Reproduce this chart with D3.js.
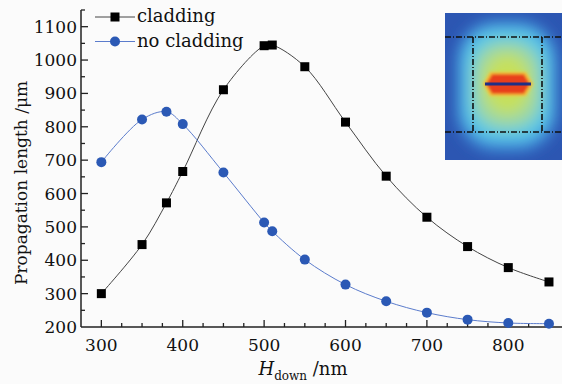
<!DOCTYPE html>
<html>
<head>
<meta charset="utf-8">
<script src="https://cdn.jsdelivr.net/npm/d3@7"></script>
<style>
  body { margin: 0; background: #fbfbfb; }
  svg { display: block; }
  text { font-family: "DejaVu Serif", "Liberation Serif", serif; fill: #111; }
</style>
</head>
<body>
<svg id="chart" width="562" height="384"></svg>
<script>
// data
const hDown = [300, 350, 380, 400, 450, 500, 510, 550, 600, 650, 700, 750, 800, 850];
const cladding = [300, 447, 572, 666, 911, 1043, 1045, 980, 814, 652, 529, 441, 378, 335];
const noCladding = [694, 822, 845, 808, 663, 513, 487, 402, 327, 277, 243, 222, 212, 210];
const xTicks = [300, 400, 500, 600, 700, 800];
const yTicks = [200, 300, 400, 500, 600, 700, 800, 900, 1000, 1100];
const seriesNames = ["cladding", "no cladding"];

const width = 562, height = 384;
const margin = {left: 81, right: 0, top: 10, bottom: 57};

const svg = d3.select("#chart");

const x = d3.scaleLinear().domain([275, 866]).range([margin.left, width - margin.right]);
const y = d3.scaleLinear().domain([200, 1150]).range([height - margin.bottom, margin.top]);

// inset field picture (decoration)
const defs = svg.append("defs");
defs.append("filter").attr("id", "blur").attr("x", "-30%").attr("y", "-30%").attr("width", "160%").attr("height", "160%")
  .append("feGaussianBlur").attr("stdDeviation", 7);
defs.append("filter").attr("id", "blurS").append("feGaussianBlur").attr("stdDeviation", 1.5);
defs.append("clipPath").attr("id", "insetClip")
  .append("rect").attr("x", 445).attr("y", 13).attr("width", 117).attr("height", 147);

const inset = svg.append("g").attr("clip-path", "url(#insetClip)");
inset.append("rect").attr("x", 445).attr("y", 13).attr("width", 117).attr("height", 147)
  .attr("fill", "#2c56b2");
const field = inset.append("g").attr("filter", "url(#blur)");
field.append("rect").attr("x", 456).attr("y", 20).attr("width", 102).attr("height", 132).attr("rx", 40)
  .attr("fill", "#3d8ad8");
field.append("rect").attr("x", 463).attr("y", 28).attr("width", 88).attr("height", 114).attr("rx", 34)
  .attr("fill", "#5cc8e6");
field.append("rect").attr("x", 474).attr("y", 42).attr("width", 66).attr("height", 86).attr("rx", 28)
  .attr("fill", "#9fd8a0");
field.append("ellipse").attr("cx", 507).attr("cy", 84).attr("rx", 24).attr("ry", 30)
  .attr("fill", "#c6e05c");
const hotG = inset.append("g").attr("filter", "url(#blurS)");
hotG.append("polygon").attr("points", "483,84 490,72 526,72 533,84 526,96 490,96").attr("fill", "#f5c23a");
hotG.append("polygon").attr("points", "486,84 492,74 524,74 530,84 524,94 492,94").attr("fill", "#e8401e");
inset.append("line").attr("x1", 485).attr("x2", 531).attr("y1", 84).attr("y2", 84)
  .attr("stroke", "#1f2f86").attr("stroke-width", 3);
const dash = "6,2,1,2";
[[445, 37, 562, 37], [445, 132, 562, 132], [473, 37, 473, 132], [542, 37, 542, 132]]
  .forEach(l => inset.append("line")
    .attr("x1", l[0]).attr("y1", l[1]).attr("x2", l[2]).attr("y2", l[3])
    .attr("stroke", "#111").attr("stroke-width", 1.6).attr("stroke-dasharray", dash));

// axes with inward ticks
const axisColor = "#222";
const xAxis = svg.append("g").attr("transform", "translate(0," + y(200) + ")");
xAxis.append("line").attr("x1", margin.left).attr("x2", width).attr("stroke", axisColor).attr("stroke-width", 1.5);
d3.range(300, 866, 25).forEach(v => {
  const major = v % 100 === 0;
  xAxis.append("line").attr("x1", x(v)).attr("x2", x(v)).attr("y1", 0).attr("y2", major ? -7 : -4)
    .attr("stroke", axisColor).attr("stroke-width", 1.3);
});
xAxis.selectAll("text.tick").data(xTicks).enter().append("text")
  .attr("x", d => x(d)).attr("y", 24).attr("text-anchor", "middle")
  .style("font-size", "17px").text(d => d);

const yAxis = svg.append("g").attr("transform", "translate(" + margin.left + ",0)");
yAxis.append("line").attr("y1", y(200)).attr("y2", margin.top).attr("stroke", axisColor).attr("stroke-width", 1.5);
d3.range(250, 1151, 50).forEach(v => {
  const major = v % 100 === 0;
  yAxis.append("line").attr("y1", y(v)).attr("y2", y(v)).attr("x1", 0).attr("x2", major ? 7 : 4)
    .attr("stroke", axisColor).attr("stroke-width", 1.3);
});
yAxis.selectAll("text.tick").data(yTicks).enter().append("text")
  .attr("x", -4).attr("y", d => y(d) + 6).attr("text-anchor", "end")
  .style("font-size", "17px").text(d => d);

// axis titles
svg.append("text")
  .attr("transform", "translate(27," + 183 + ") rotate(-90)")
  .attr("text-anchor", "middle").style("font-size", "17px")
  .text("Propagation length /\u03bcm");
const xt = svg.append("text").attr("x", 303).attr("y", 375).attr("text-anchor", "middle").style("font-size", "18px");
xt.append("tspan").style("font-style", "italic").text("H");
xt.append("tspan").attr("dy", 5).style("font-size", "12px").text("down");
xt.append("tspan").attr("dy", -5).text(" /nm");

// series
const line = d3.line().x(d => x(d[0])).y(d => y(d[1])).curve(d3.curveCatmullRom);
const black = "#000", blueLine = "#5b7ccc", blueDot = "#2b59b5";

svg.append("path").datum(hDown.map((h, i) => [h, cladding[i]]))
  .attr("d", line).attr("fill", "none").attr("stroke", "#444").attr("stroke-width", 1);
svg.append("path").datum(hDown.map((h, i) => [h, noCladding[i]]))
  .attr("d", line).attr("fill", "none").attr("stroke", blueLine).attr("stroke-width", 1);

svg.selectAll("rect.sq").data(hDown.map((h, i) => [h, cladding[i]])).enter().append("rect")
  .attr("x", d => x(d[0]) - 4.5).attr("y", d => y(d[1]) - 4.5)
  .attr("width", 9).attr("height", 9).attr("fill", black);
svg.selectAll("circle.dot").data(hDown.map((h, i) => [h, noCladding[i]])).enter().append("circle")
  .attr("cx", d => x(d[0])).attr("cy", d => y(d[1])).attr("r", 5).attr("fill", blueDot);

// legend
const legend = svg.append("g");
seriesNames.forEach((name, i) => {
  const ly = 17 + i * 24.5;
  legend.append("line").attr("x1", 95).attr("x2", 135).attr("y1", ly).attr("y2", ly)
    .attr("stroke", i === 0 ? "#444" : blueLine).attr("stroke-width", 1);
  if (i === 0) {
    legend.append("rect").attr("x", 110.5).attr("y", ly - 4.5).attr("width", 9).attr("height", 9).attr("fill", black);
  } else {
    legend.append("circle").attr("cx", 115).attr("cy", ly).attr("r", 5).attr("fill", blueDot);
  }
  legend.append("text").attr("x", 137).attr("y", ly + 5).style("font-size", "18px").text(name);
});
</script>
</body>
</html>
